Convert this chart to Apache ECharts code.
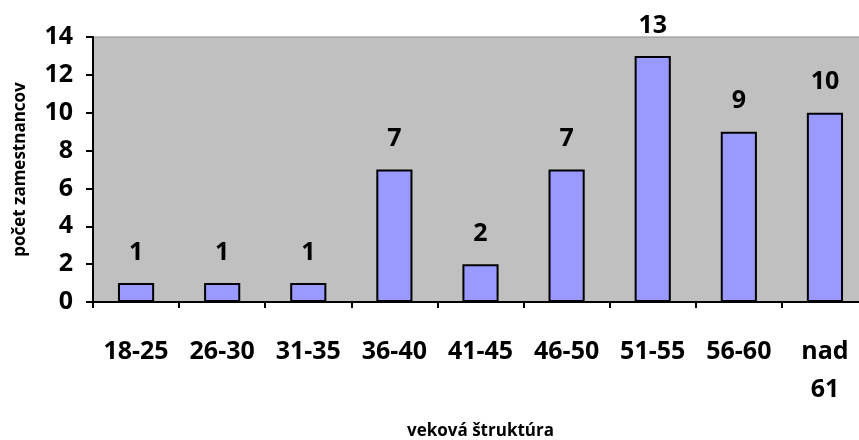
<!DOCTYPE html>
<html><head><meta charset="utf-8">
<script src="https://cdn.jsdelivr.net/npm/echarts@6/dist/echarts.min.js"></script>
<style>html,body{margin:0;padding:0;background:#fff}#c{width:859px;height:440px}</style>
</head><body><div id="c"></div>
<script>
const categories = ['18-25','26-30','31-35','36-40','41-45','46-50','51-55','56-60','nad 61'];
const values = [1,1,1,7,2,7,13,9,10];
const yTicks = [0,2,4,6,8,10,12,14];
const font = '"Open Sans", "DejaVu Sans", sans-serif';
const chart = echarts.init(document.getElementById('c'));
chart.setOption({
  animation:false,
  grid:{left:93,right:-9,top:37,bottom:138,outerBoundsMode:'none',containLabel:false,show:true,backgroundColor:'#C0C0C0',borderColor:'#8a8a8a',borderWidth:1},
  xAxis:{type:'category',data:categories,
    axisLine:{lineStyle:{color:'#000',width:2}},
    axisTick:{show:true,length:6,lineStyle:{color:'#000',width:2},alignWithLabel:false},
    axisLabel:{interval:0,margin:31,fontFamily:font,fontWeight:'bold',fontSize:25,color:'#000',lineHeight:38,
      formatter:v=>v.replace(' ','\n')},
    name:'veková štruktúra',nameLocation:'middle',nameGap:121,
    nameTextStyle:{fontFamily:font,fontWeight:'bold',fontSize:17,color:'#000',padding:[0,0,0,0]}},
  yAxis:{type:'value',min:0,max:yTicks[yTicks.length-1],interval:2,
    axisLine:{show:true,lineStyle:{color:'#000',width:2}},
    axisTick:{show:true,length:7,lineStyle:{color:'#000',width:2}},
    splitLine:{show:false},
    axisLabel:{margin:20,fontFamily:font,fontWeight:'bold',fontSize:25,color:'#000'},
    name:'počet zamestnancov',nameLocation:'middle',nameGap:64,nameRotate:90,
    nameTextStyle:{fontFamily:font,fontWeight:'bold',fontSize:17,color:'#000'}},
  series:[{type:'bar',data:values,barWidth:'42%',
    itemStyle:{color:'#9999FF',borderColor:'#000',borderWidth:2},
    label:{show:true,position:'top',distance:18,fontFamily:font,fontWeight:'bold',fontSize:25,color:'#000'}}]
});
</script></body></html>
